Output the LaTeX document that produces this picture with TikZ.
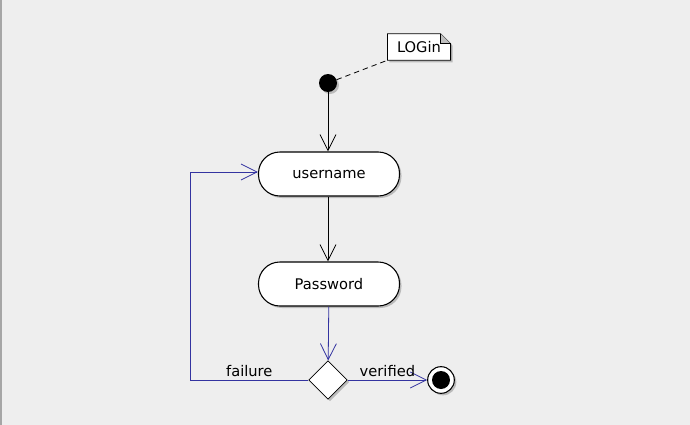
\documentclass[tikz,border=0pt]{standalone}
\usepackage{xcolor}
\usepackage{fontspec}
\setmainfont{DejaVu Sans}
\usepackage{tikz}
\usetikzlibrary{shapes.geometric, arrows.meta, positioning, backgrounds, shadows}

\definecolor{canvas}{RGB}{238,238,238}
\definecolor{flowblue}{RGB}{51,51,160}

\begin{document}
\begin{tikzpicture}[
    x=0.75pt, y=-0.75pt,
    font=\fontsize{11}{13}\selectfont,
    shade/.style={drop shadow={shadow xshift=1.5pt, shadow yshift=-1.5pt, fill=black!40, opacity=0.6}},
    action/.style={rectangle, draw=black, line width=0.8pt, fill=white, rounded corners=16pt, minimum width=105.75pt, minimum height=33pt, shade},
    initial/.style={circle, fill=black, inner sep=0pt, minimum size=13.5pt, shade},
    final/.style={circle, draw=black, line width=0.8pt, fill=white, inner sep=0pt, minimum size=20pt, shade, path picture={\fill[black] (path picture bounding box.center) circle (6.75pt);}},
    choice/.style={diamond, draw=black, line width=0.6pt, fill=white, inner sep=0pt, minimum size=29pt, aspect=1, shade},
    note/.style={rectangle, inner sep=0pt, minimum width=47pt, minimum height=19.5pt},
    arrow/.style={line width=0.6pt, -{Straight Barb[length=12pt, width=12pt]}}
]

\useasboundingbox (0,0) rectangle (690,425);

\node (start) [initial] at (328,83) {};
\node (login) [note] at (419,47) {LOGin};
\node (user) [action] at (329,174) {username};
\node (pass) [action] at (329,284) {Password};
\node (check) [choice] at (328,380) {};
\node (stop) [final] at (441,380) {};

% canvas and note with folded corner
\begin{scope}[on background layer]
    \fill[canvas] (0,0) rectangle (690,425);
    \draw[black!35, line width=1.5pt] (1,0) -- (1,425);
    \draw[line width=0.6pt, fill=white, shade] (login.north west) -- ([xshift=-7.5pt]login.north east) -- ([yshift=-7.5pt]login.north east) -- (login.south east) -- (login.south west) -- cycle;
    \draw[line width=0.6pt, fill=black!25] ([xshift=-7.5pt]login.north east) -- ([xshift=-7.5pt, yshift=-7.5pt]login.north east) -- ([yshift=-7.5pt]login.north east);
\end{scope}

\draw [dashed, dash pattern=on 4pt off 3pt, line width=0.6pt] (start) -- (login.south west);
\draw [arrow] (start) -- (start |- user.north);
\draw [arrow] (start |- user.south) -- (start |- pass.north);
\draw [arrow, flowblue] (pass) -- (check);
\draw [arrow, flowblue] (check) -- node[above=-1pt, black] {verified} (stop);
\draw [arrow, flowblue] (check.west) -- node[above=-1pt, black] {failure} ++(-118,0) |- ([yshift=1.5pt]user.west);

\end{tikzpicture}
\end{document}
